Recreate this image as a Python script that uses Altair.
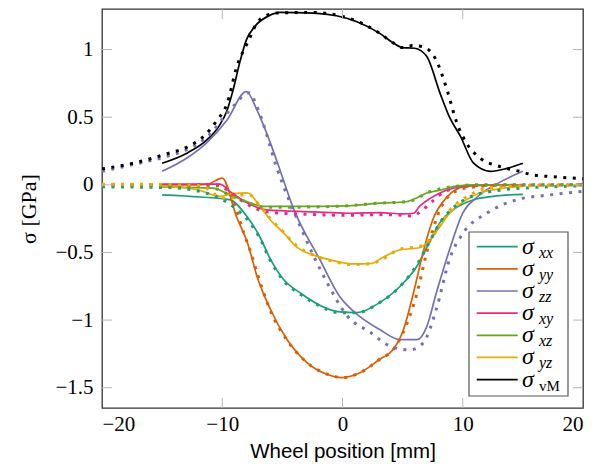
import altair as alt
import pandas as pd

# ---------------- data ----------------
SERIES = ["xx", "yy", "zz", "xy", "xz", "yz", "vM"]
COLORS = ["#1b9e77", "#d95f02", "#7570b3", "#e7298a", "#66a61e", "#e6ab02", "#000000"]

# sigma_xx
xx_solid_x = [-15, -11.8, -9.4, -7.9, -6.9, -6.0, -4.9, -3.5, -1.9, -0.2, 1.2, 3.1, 4.8, 6.2, 7.3, 8.1, 9.2, 10.9, 12.5, 15]
xx_solid_y = [-0.074, -0.09, -0.11, -0.24, -0.38, -0.55, -0.70, -0.80, -0.89, -0.94, -0.945, -0.87, -0.75, -0.60, -0.41, -0.28, -0.185, -0.11, -0.085, -0.07]
xx_dot_x = [-20, -14.6, -11.8, -9.1, -7.7, -6.9, -6.0, -4.9, -3.5, -1.9, -0.2, 1.2, 3.1, 4.8, 6.2, 7.3, 8.1, 9.2, 10.9, 13.1, 15.8, 20]
xx_dot_y = [-0.015, -0.02, -0.05, -0.16, -0.28, -0.39, -0.56, -0.71, -0.81, -0.895, -0.945, -0.945, -0.87, -0.75, -0.59, -0.41, -0.28, -0.17, -0.08, -0.04, -0.02, -0.008]

# sigma_yy
yy_solid_x = [-15, -12, -11.2, -10.0, -8.8, -7.9, -7.1, -6.0, -4.6, -3.0, -1.3, 0.0, 1.45, 3.1, 4.2, 5.0, 5.9, 6.7, 7.5, 8.7, 10.0, 12, 15]
yy_solid_y = [0.0, 0.0, 0.005, 0.05, -0.24, -0.43, -0.68, -0.92, -1.145, -1.31, -1.40, -1.425, -1.39, -1.29, -1.22, -1.09, -0.80, -0.50, -0.26, -0.09, -0.015, 0.0, 0.0]
yy_dot_x = [-20, -12, -10.5, -9.6, -9.0, -8.2, -7.7, -7.0, -6.0, -4.6, -3.0, -1.3, 0.0, 1.45, 3.1, 4.2, 5.0, 6.2, 7.0, 8.1, 9.0, 10.5, 13, 20]
yy_dot_y = [0.0, 0.0, -0.005, -0.02, -0.14, -0.36, -0.48, -0.68, -0.93, -1.15, -1.31, -1.40, -1.425, -1.39, -1.29, -1.22, -1.10, -0.80, -0.50, -0.185, -0.07, -0.02, -0.005, 0.0]

# sigma_zz
zz_solid_x = [-15, -12.9, -11.3, -9.6, -8.0, -7.1, -6.0, -5.2, -4.1, -1.9, -0.2, 1.45, 3.1, 4.8, 6.2, 7.0, 7.8, 8.9, 10.0, 11.2, 13.1, 15.0]
zz_solid_y = [0.10, 0.20, 0.31, 0.48, 0.69, 0.55, 0.31, 0.11, -0.17, -0.55, -0.83, -0.975, -1.07, -1.145, -1.145, -1.05, -0.80, -0.48, -0.21, -0.09, 0.02, 0.10]
zz_dot_x = [-20, -17.4, -14.6, -13.5, -11.3, -9.1, -7.8, -6.9, -5.5, -3.5, -1.3, 0.4, 2.3, 3.9, 5.6, 6.7, 7.8, 8.9, 10.0, 12.0, 14.5, 17.2, 20]
zz_dot_y = [0.10, 0.15, 0.21, 0.24, 0.35, 0.58, 0.68, 0.53, 0.135, -0.31, -0.72, -0.97, -1.09, -1.19, -1.22, -1.17, -0.92, -0.55, -0.36, -0.21, -0.11, -0.075, -0.048]

# sigma_xy
xy_solid_x = [-15, -10.2, -9.35, -7.9, -6.3, -2.4, 0.4, 3.1, 5.0, 5.9, 6.4, 7.3, 8.1, 9.2, 11, 15]
xy_solid_y = [0.005, 0.005, -0.05, -0.135, -0.185, -0.20, -0.21, -0.205, -0.215, -0.21, -0.16, -0.10, -0.06, -0.025, -0.005, 0.0]
xy_dot_x = [-20, -10.5, -9.4, -8.0, -6.3, -2.4, 0.4, 3.1, 5.0, 5.8, 6.6, 7.5, 8.5, 10, 12, 20]
xy_dot_y = [0.0, 0.0, -0.05, -0.14, -0.20, -0.22, -0.225, -0.22, -0.225, -0.23, -0.19, -0.12, -0.05, -0.015, -0.003, 0.0]

# sigma_xz
xz_solid_x = [-15, -10.8, -9.35, -7.9, -6.6, -3.8, 0.4, 3.1, 5.3, 6.2, 7.0, 8.1, 9.5, 11, 15]
xz_solid_y = [-0.015, -0.025, -0.075, -0.125, -0.16, -0.16, -0.155, -0.135, -0.125, -0.095, -0.06, -0.04, -0.01, 0.0, 0.0]
xz_dot_x = [-20, -12, -10.5, -9.3, -7.9, -6.6, -3.8, 0.4, 3.1, 5.3, 6.0, 7.0, 8.1, 9.5, 11, 20]
xz_dot_y = [-0.005, -0.01, -0.03, -0.08, -0.13, -0.165, -0.165, -0.155, -0.135, -0.125, -0.11, -0.06, -0.03, -0.01, 0.0, 0.0]

# sigma_yz
yz_solid_x = [-15, -12.1, -10.2, -9.1, -7.9, -7.1, -6.0, -4.9, -3.8, -2.4, -1.0, 0.9, 2.5, 3.1, 4.8, 6.4, 7.3, 8.1, 8.9, 10.3, 11.4, 13, 15]
yz_solid_y = [-0.01, -0.035, -0.085, -0.065, -0.06, -0.13, -0.26, -0.355, -0.46, -0.52, -0.555, -0.585, -0.58, -0.55, -0.48, -0.465, -0.405, -0.31, -0.21, -0.11, -0.06, -0.03, -0.01]
yz_dot_x = [-20, -12.5, -11, -10.2, -9.3, -8.3, -7.7, -7.1, -6.0, -4.9, -3.8, -2.4, -1.0, 0.9, 2.5, 3.1, 4.8, 6.4, 7.3, 8.1, 8.9, 10.3, 11.4, 13, 20]
yz_dot_y = [0.005, 0.0, -0.04, -0.095, -0.10, -0.075, -0.075, -0.13, -0.25, -0.35, -0.45, -0.52, -0.56, -0.59, -0.58, -0.56, -0.475, -0.455, -0.40, -0.30, -0.19, -0.09, -0.04, -0.015, 0.0]

# sigma_vM
vm_solid_x = [-15, -12.9, -11.3, -10.3, -9.6, -9.1, -8.5, -8.0, -7.3, -6.0, -5.2, -2.4, -0.5, 1.2, 3.1, 4.2, 5.0, 6.0, 7.0, 8.1, 8.9, 9.8, 10.9, 12.3, 13.6, 15.0]
vm_solid_y = [0.16, 0.236, 0.33, 0.43, 0.55, 0.70, 0.92, 1.07, 1.17, 1.255, 1.275, 1.27, 1.25, 1.206, 1.12, 1.05, 1.014, 1.01, 0.95, 0.68, 0.50, 0.36, 0.16, 0.10, 0.12, 0.16]
vm_dot_x = [-20, -17.4, -14.6, -12.9, -11.3, -10.5, -9.6, -8.8, -7.9, -6.9, -5.5, -2.4, -0.5, 1.2, 3.1, 4.2, 5.0, 5.8, 6.7, 7.8, 8.7, 9.5, 10.3, 11.4, 13.1, 14.7, 15.8, 17.5, 20]
vm_dot_y = [0.118, 0.16, 0.23, 0.28, 0.38, 0.47, 0.60, 0.87, 1.05, 1.22, 1.27, 1.275, 1.255, 1.21, 1.12, 1.05, 1.015, 1.03, 1.02, 0.92, 0.70, 0.46, 0.31, 0.20, 0.135, 0.10, 0.074, 0.06, 0.045]

X_TICKS = [-20, -10, 0, 10, 20]
Y_TICKS = [-1.5, -1, -0.5, 0, 0.5, 1]
LEGEND_SUBS = ["xx", "yy", "zz", "xy", "xz", "yz", "vM"]

# ---------------- build tables ----------------
curves = {
    "xx": (xx_solid_x, xx_solid_y, xx_dot_x, xx_dot_y),
    "yy": (yy_solid_x, yy_solid_y, yy_dot_x, yy_dot_y),
    "zz": (zz_solid_x, zz_solid_y, zz_dot_x, zz_dot_y),
    "xy": (xy_solid_x, xy_solid_y, xy_dot_x, xy_dot_y),
    "xz": (xz_solid_x, xz_solid_y, xz_dot_x, xz_dot_y),
    "yz": (yz_solid_x, yz_solid_y, yz_dot_x, yz_dot_y),
    "vM": (vm_solid_x, vm_solid_y, vm_dot_x, vm_dot_y),
}
rows = []
for name, (sx, sy, dx, dy) in curves.items():
    for a, b in zip(sx, sy):
        rows.append({"series": name, "style": "solid", "x": a, "y": b})
    for a, b in zip(dx, dy):
        rows.append({"series": name, "style": "dotted", "x": a, "y": b})
df = pd.DataFrame(rows)

xt = pd.DataFrame({"x": [v for v in X_TICKS if -20 < v < 20]})
yt = pd.DataFrame({"y": Y_TICKS})
leg = pd.DataFrame({"sub": LEGEND_SUBS, "col": COLORS, "idx": list(range(len(LEGEND_SUBS)))})

W, H = 481, 399
SERIF = "Liberation Serif"

xscale = alt.Scale(domain=[-20, 20], nice=False, zero=False)
yscale = alt.Scale(domain=[-1.65, 1.3], nice=False, zero=False)

xaxis = alt.Axis(values=X_TICKS, format=".1~f", title="Wheel position [mm]")
yaxis = alt.Axis(values=Y_TICKS, format=".1~f", title="σ [GPa]")

XE = alt.X("x:Q", scale=xscale, axis=xaxis)
YE = alt.Y("y:Q", scale=yscale, axis=yaxis)

color = alt.Color("series:N", scale=alt.Scale(domain=SERIES, range=COLORS), legend=None)

base = alt.Chart(df)
solid = base.transform_filter("datum.style == 'solid'").mark_line(
    strokeWidth=1.7, interpolate="monotone", clip=True
).encode(x=XE, y=YE, color=color)

dotted = base.transform_filter("datum.style == 'dotted'").mark_line(
    strokeWidth=3, strokeDash=[3, 6.5], strokeCap="butt", interpolate="monotone", clip=True
).encode(x=XE, y=YE, color=color)

tick_col = "#b5b5b5"
xt_bottom = alt.Chart(xt).mark_rule(color=tick_col, strokeWidth=1).encode(
    x=XE, y=alt.value(H), y2=alt.value(H - 10))
xt_top = alt.Chart(xt).mark_rule(color=tick_col, strokeWidth=1).encode(
    x=XE, y=alt.value(0), y2=alt.value(10))
yt_left = alt.Chart(yt).mark_rule(color=tick_col, strokeWidth=1).encode(
    y=YE, x=alt.value(0), x2=alt.value(10))
yt_right = alt.Chart(yt).mark_rule(color=tick_col, strokeWidth=1).encode(
    y=YE, x=alt.value(W - 10), x2=alt.value(W))

# legend box
LX0, LX1, LY0, LY1 = 367, 466, 223, 387
box = alt.Chart(leg).transform_filter("datum.idx == 0").mark_rect(
    fill="white", stroke="#555555", strokeWidth=1.2
).encode(x=alt.value(LX0), x2=alt.value(LX1), y=alt.value(LY0), y2=alt.value(LY1))

legbase = alt.Chart(leg).transform_calculate(
    py="237.7 + 22.15 * datum.idx", pys="237.7 + 22.15 * datum.idx + 7", pyb="237.7 + 22.15 * datum.idx + 11"
)
leg_lines = legbase.mark_rule(strokeWidth=1.7).encode(
    x=alt.value(374.7), x2=alt.value(415.7),
    y=alt.Y("py:Q", scale=None),
    color=alt.Color("col:N", scale=None, legend=None))
leg_sigma = legbase.mark_text(text="σ", font=SERIF, fontStyle="italic", fontSize=24, align="left",
                              baseline="alphabetic", color="black").encode(
    x=alt.value(420), y=alt.Y("pys:Q", scale=None))
leg_sub_it = legbase.transform_filter("datum.sub != 'vM'").mark_text(
    font=SERIF, fontStyle="italic", fontSize=16, align="left", baseline="alphabetic", color="black").encode(
    x=alt.value(437), y=alt.Y("pyb:Q", scale=None), text="sub:N")
leg_sub_up = legbase.transform_filter("datum.sub == 'vM'").mark_text(
    font=SERIF, fontSize=15, align="left", baseline="alphabetic", color="black").encode(
    x=alt.value(437), y=alt.Y("pyb:Q", scale=None), text="sub:N")

chart = alt.layer(
    solid, dotted, xt_bottom, xt_top, yt_left, yt_right,
    box, leg_lines, leg_sigma, leg_sub_it, leg_sub_up
).properties(
    width=W, height=H,
    background="white",
    autosize=alt.AutoSizeParams(type="none"),
    padding={"left": 94, "top": 1, "right": 12, "bottom": 54},
).configure_view(
    stroke="#333333", strokeWidth=1.3
).configure_axis(
    grid=False, ticks=False, tickSize=0, domain=False,
    labelFont=SERIF, labelFontSize=21, labelColor="black",
    titleFontWeight="normal", titleColor="black",
).configure_axisX(
    labelPadding=5, titleFont="Liberation Sans", titleFontSize=20.5,
    titleX=W / 2, titleY=43, titleBaseline="middle", titleAlign="center",
).configure_axisY(
    labelPadding=9, titleFont=SERIF, titleFontSize=22,
    titleX=-74, titleY=H / 2, titleAngle=-90, titleBaseline="middle", titleAlign="center",
)

chart.save("out.html", embed_options={"renderer": "svg", "actions": False})
